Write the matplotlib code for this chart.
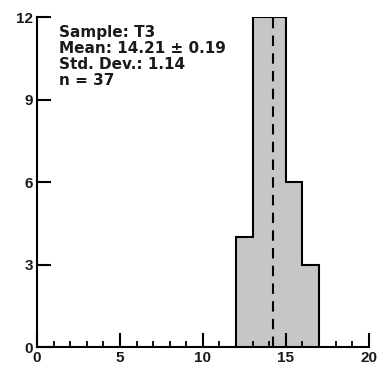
import matplotlib
matplotlib.use("Agg")
import matplotlib.pyplot as plt
from matplotlib.ticker import MultipleLocator

# Histogram of sample T3
bin_edges = [12, 13, 14, 15, 16, 17]
counts = [4, 12, 12, 6, 3]
mean_value = 14.21
mean_err = 0.19
std_dev = 1.14
n_samples = 37
sample_name = "T3"

x_ticks = [0, 5, 10, 15, 20]
y_ticks = [0, 3, 6, 9, 12]

plt.rcParams["font.family"] = ["Liberation Sans", "DejaVu Sans"]
plt.rcParams["font.weight"] = "bold"

fig = plt.figure(figsize=(3.85, 3.74), dpi=100)
ax = fig.add_axes([0.096, 0.072, 0.862, 0.882])

ax.stairs(counts, bin_edges, fill=True, color="#c5c7c4", zorder=1)
ax.stairs(counts, bin_edges, color="black", lw=1.5, zorder=2)
ax.plot([mean_value, mean_value], [0, max(counts)], color="black",
        lw=1.5, ls=(0, (5, 3.5)), zorder=3)

ax.set_xlim(0, 20)
ax.set_ylim(0, 12)
ax.set_xticks(x_ticks)
ax.set_yticks(y_ticks)
ax.xaxis.set_minor_locator(MultipleLocator(1))

for side in ("top", "right"):
    ax.spines[side].set_visible(False)
for side in ("left", "bottom"):
    ax.spines[side].set_linewidth(1.5)
    ax.spines[side].set_zorder(4)

ax.tick_params(axis="both", which="major", direction="in", length=10,
               width=1.5, labelsize=11, pad=3, labelcolor="#1a1a1a")
ax.tick_params(axis="x", which="minor", direction="in", length=4, width=1.3)
ax.tick_params(axis="y", which="minor", left=False)
for lab in ax.get_xticklabels() + ax.get_yticklabels():
    lab.set_fontweight("bold")

info = (f"Sample: {sample_name}\n"
        f"Mean: {mean_value:.2f} \u00b1 {mean_err:.2f}\n"
        f"Std. Dev.: {std_dev:.2f}\n"
        f"n = {n_samples}")
ax.text(1.35, 11.7, info, ha="left", va="top", fontsize=11,
        family="DejaVu Sans", fontweight="bold", linespacing=1.06,
        color="#1a1a1a")

fig.savefig("out.png", dpi=100)
